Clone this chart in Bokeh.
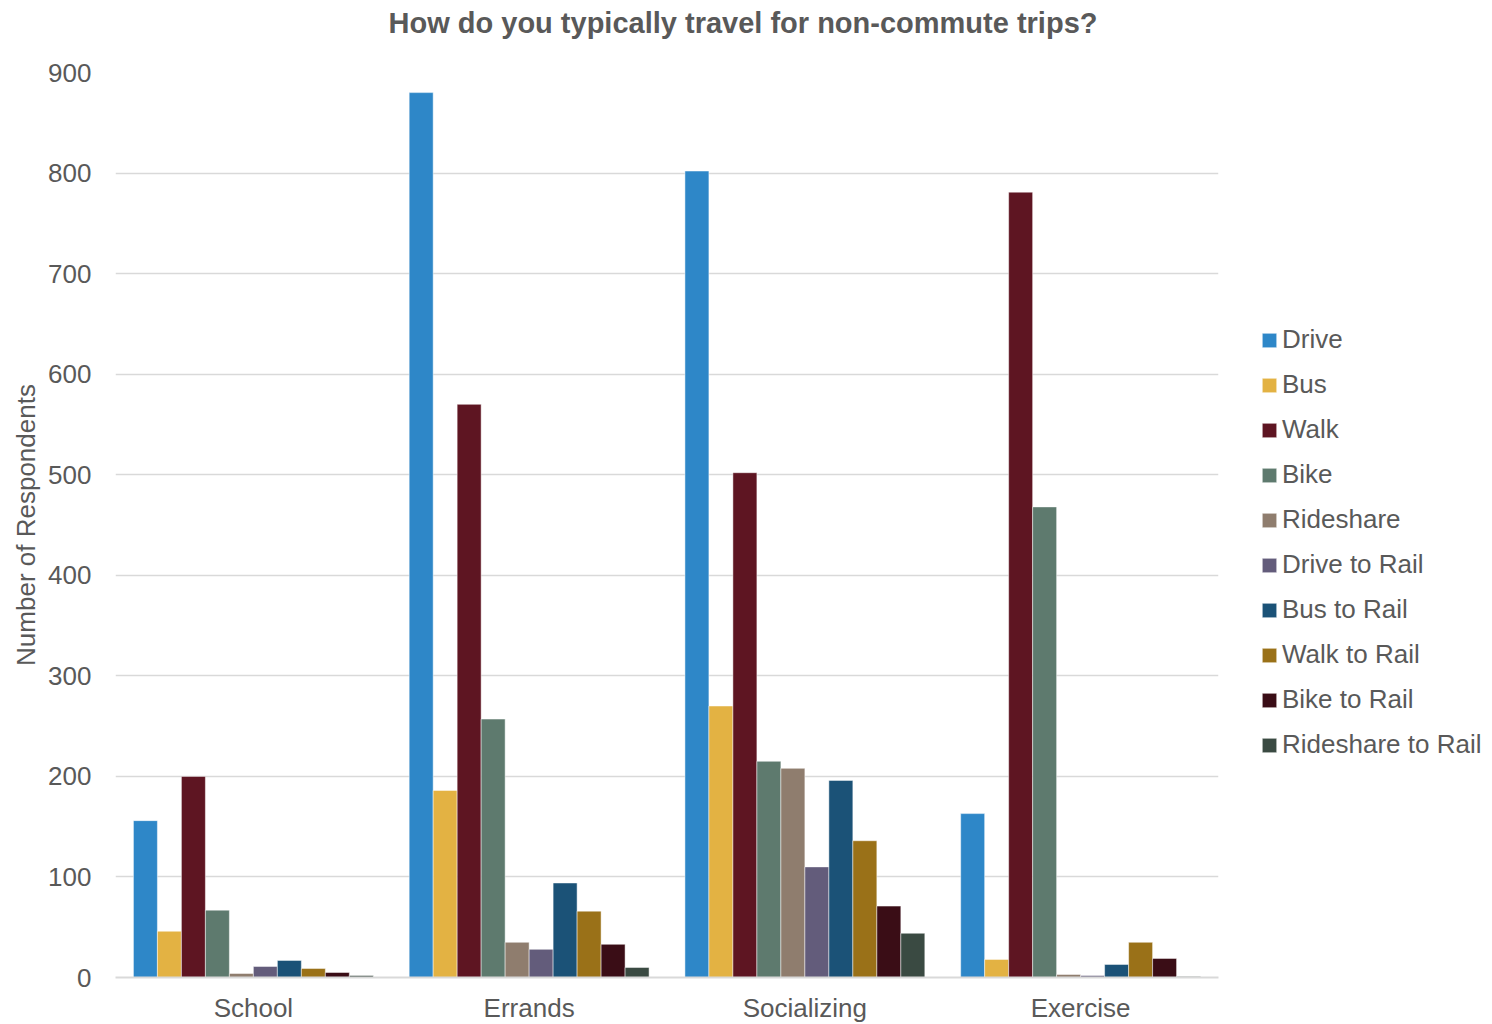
from bokeh.plotting import figure
from bokeh.models import ColumnDataSource, FactorRange, Legend, LegendItem, Title
from bokeh.transform import dodge
from bokeh.embed import file_html
from bokeh.resources import INLINE

title_text = "How do you typically travel for non-commute trips?"
categories = ["School", "Errands", "Socializing", "Exercise"]
modes = ["Drive", "Bus", "Walk", "Bike", "Rideshare", "Drive to Rail",
         "Bus to Rail", "Walk to Rail", "Bike to Rail", "Rideshare to Rail"]
drive = [156, 880, 802, 163]
bus = [46, 186, 270, 18]
walk = [200, 570, 502, 781]
bike = [67, 257, 215, 468]
rideshare = [4, 35, 208, 3]
drive_to_rail = [11, 28, 110, 2]
bus_to_rail = [17, 94, 196, 13]
walk_to_rail = [9, 66, 136, 35]
bike_to_rail = [5, 33, 71, 19]
rideshare_to_rail = [2, 10, 44, 1]
yticks = [0, 100, 200, 300, 400, 500, 600, 700, 800, 900]

series = [drive, bus, walk, bike, rideshare, drive_to_rail, bus_to_rail,
          walk_to_rail, bike_to_rail, rideshare_to_rail]
colors = ["#2E87C8", "#E3B243", "#5E1522", "#5E7A6E", "#8F7D6E", "#635C7B",
          "#1B5277", "#9A7118", "#3A0D16", "#3A4A42"]

data = {"cat": categories}
for i, s in enumerate(series):
    data["s%d" % i] = s
source = ColumnDataSource(data)

FONT = "Liberation Sans"
GRAY = "#595959"

p = figure(x_range=FactorRange(*categories), y_range=(0, 900),
           frame_width=1103, frame_height=905,
           min_border_left=115, min_border_top=72, min_border_bottom=0,
           min_border_right=272,
           output_backend="svg", toolbar_location=None)

bw = 0.087
items = []
for i, (m, c) in enumerate(zip(modes, colors)):
    r = p.vbar(x=dodge("cat", (i - 4.5) * bw, range=p.x_range), top="s%d" % i,
               width=bw, source=source, fill_color=c, line_color="white",
               line_alpha=0.6, line_width=0.8)
    items.append(LegendItem(label=m, renderers=[r]))

legend = Legend(items=items, location=(42, 217),
                label_text_font=FONT, label_text_font_size="26px",
                label_text_color=GRAY, glyph_width=18, glyph_height=18,
                label_standoff=4, spacing=14, label_height=31,
                margin=0, padding=0, border_line_color=None,
                background_fill_alpha=0)
p.add_layout(legend, "right")

# blank spacer between frame and title (closest to the frame)
spacer = Title(text=" ", text_font=FONT, text_font_size="20px",
               text_color="white", standoff=8)
p.add_layout(spacer, "above")
title = Title(text=title_text, text_font=FONT, text_font_size="29px",
              text_color=GRAY, text_font_style="bold", align="left",
              offset=273, standoff=4)
p.add_layout(title, "above")

p.xgrid.grid_line_color = None
p.ygrid.grid_line_color = "#D9D9D9"
p.ygrid.grid_line_width = 1.5
p.yaxis.ticker = yticks
p.yaxis.axis_line_color = None
p.yaxis.major_tick_line_color = None
p.yaxis.minor_tick_line_color = None
p.yaxis.major_label_text_font = FONT
p.yaxis.major_label_text_font_size = "26px"
p.yaxis.major_label_text_color = GRAY
p.yaxis.axis_label = "Number of Respondents"
p.yaxis.axis_label_text_font = FONT
p.yaxis.axis_label_text_font_size = "26px"
p.yaxis.axis_label_text_color = GRAY
p.yaxis.axis_label_text_font_style = "normal"
p.yaxis.major_label_standoff = 18
p.yaxis.axis_label_standoff = 4

p.xaxis.axis_line_color = "#D9D9D9"
p.xaxis.axis_line_width = 2
p.xaxis.major_tick_line_color = None
p.xaxis.minor_tick_line_color = None
p.xaxis.major_label_text_font = FONT
p.xaxis.major_label_text_font_size = "26px"
p.xaxis.major_label_text_color = GRAY
p.xaxis.major_label_standoff = 9

p.outline_line_color = None
p.background_fill_color = "white"

open("out.html", "w").write(file_html(p, INLINE))
